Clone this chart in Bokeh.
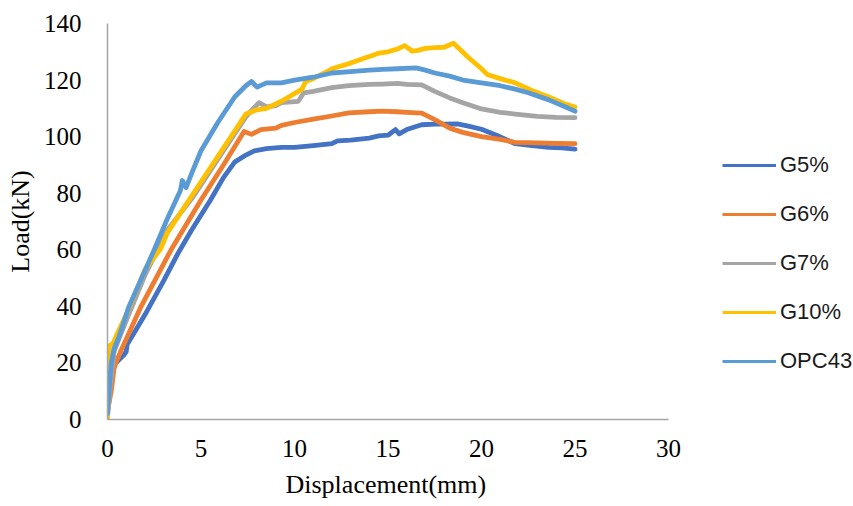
from bokeh.plotting import figure
from bokeh.models import Legend, LegendItem, Range1d, FixedTicker, Title
from bokeh.embed import file_html
from bokeh.resources import INLINE

# ---- data ----
series_names = ["G5%", "G6%", "G7%", "G10%", "OPC43"]
series_colors = ["#4472C4", "#ED7D31", "#A5A5A5", "#FFC000", "#5B9BD5"]

g5_x = [0, 0.1, 0.16, 0.3, 0.6, 0.9, 1.0, 1.07, 1.1, 2.0, 3.0, 3.75, 4.5, 5.5, 6.2, 6.8,
        7.4, 7.85, 8.5, 9.3, 10.0, 11.0, 12.0, 12.3, 13.0, 14.0, 14.5, 15.0, 15.4, 15.6,
        16.0, 16.8, 17.5, 18.0, 18.7, 19.3, 20.0, 20.8, 21.8, 22.7, 23.6, 24.3, 25.0]
g5_y = [3, 8, 17, 19, 21, 23, 24, 27.5, 27, 37, 49, 58.5, 67, 77.5, 85.5, 91,
        93.5, 95, 95.8, 96.2, 96.2, 96.8, 97.5, 98.5, 98.8, 99.5, 100.3, 100.5, 102.5, 101,
        102.5, 104.2, 104.4, 104.4, 104.5, 103.7, 102.6, 100.5, 97.5, 96.8, 96.2, 96, 95.6]

g6_x = [0, 0.2, 0.35, 0.45, 0.7, 1.8, 3.4, 5.0, 6.2, 7.3, 7.7, 8.2, 9.0, 9.3, 10.0, 11.0,
        12.0, 12.9, 14.0, 14.7, 15.5, 16.0, 16.8, 17.5, 18.3, 19.0, 20.0, 21.0, 21.8,
        23.0, 24.0, 25.0]
g6_y = [3, 10, 18, 20, 24, 40, 60, 77.6, 90, 101.8, 100.8, 102.5, 103, 104, 105, 106.2,
        107.3, 108.4, 108.8, 109, 108.8, 108.6, 108.3, 106, 103, 101.5, 100, 99, 98,
        97.8, 97.6, 97.5]

g7_x = [0, 0.15, 0.35, 0.7, 1.0, 2.0, 3.2, 4.5, 5.5, 6.5, 7.4, 7.8, 8.1, 8.5, 9.0, 9.3,
        10.2, 10.5, 11.0, 12.0, 12.9, 14.0, 14.7, 15.5, 16.0, 16.8, 17.5, 18.3, 19.0,
        20.0, 21.0, 21.8, 23.0, 24.0, 25.0]
g7_y = [1, 12, 24, 30, 35, 51, 67, 78, 88, 98, 107, 110, 112, 110.5, 111, 112,
        112.5, 115.5, 116, 117.3, 118, 118.5, 118.6, 118.8, 118.5, 118.3, 116, 113.7, 112,
        109.8, 108.6, 108, 107.2, 106.8, 106.7]

g10_x = [0, 0.05, 0.1, 0.3, 0.5, 1.0, 2.0, 2.85, 3.2, 4.5, 5.5, 6.5, 7.4, 8.0, 8.5, 9.3,
         10.4, 10.6, 11.0, 11.6, 12.0, 13.0, 13.8, 14.5, 15.0, 15.5, 15.9, 16.3, 16.6,
         17.0, 17.5, 18.0, 18.5, 19.3, 20.0, 20.3, 21.0, 21.8, 22.7, 23.6, 24.5, 25.0]
g10_y = [0.5, 8, 26, 27, 30, 37, 53, 60.4, 66, 79, 89, 99, 108, 109.5, 110, 112.5,
         116.8, 119.5, 120.5, 122.5, 124, 126, 127.9, 129.5, 130, 131, 132.2, 130.2, 130.5,
         131.2, 131.5, 131.6, 133, 128, 124, 122, 120.5, 119, 116.3, 114, 111.5, 110.5]

opc_x = [0, 0.1, 0.2, 0.35, 0.6, 1.15, 2.5, 3.2, 3.9, 4.0, 4.2, 4.5, 5.0, 5.9, 6.8, 7.4,
         7.7, 8.0, 8.5, 9.3, 10.0, 11.0, 12.0, 13.0, 14.0, 14.7, 15.5, 16.5, 17.0, 17.5,
         18.3, 19.0, 20.0, 21.0, 21.8, 22.5, 23.6, 24.5, 25.0]
opc_y = [2, 12, 20, 25, 29, 40, 60, 71, 81, 84.5, 82, 87, 95, 105, 114, 118,
         119.5, 117.5, 119, 119, 120, 121, 122.5, 123, 123.5, 123.8, 124, 124.3, 123.5, 122.5,
         121.4, 120, 119, 118, 116.8, 115.5, 113, 110.5, 109]

series_x = [g5_x, g6_x, g7_x, g10_x, opc_x]
series_y = [g5_y, g6_y, g7_y, g10_y, opc_y]

x_ticks = [0, 5, 10, 15, 20, 25, 30]
y_ticks = [0, 20, 40, 60, 80, 100, 120, 140]
x_axis_min, x_axis_max = 0, 30
y_axis_min, y_axis_max = 0, 140

# plot area spans 107..668 px for 0..30; the frame runs on to the right edge
# so the legend can sit inside it, with the axis line bounded to 0..30
left_px, axis_end_px, width_px = 107, 668, 853
x_view_end = x_axis_max * (width_px - left_px) / (axis_end_px - left_px)

p = figure(width=width_px, height=506, output_backend="svg", toolbar_location=None,
           x_range=Range1d(x_axis_min, x_view_end), y_range=Range1d(y_axis_min, y_axis_max),
           min_border_left=left_px, min_border_right=0,
           min_border_top=23, min_border_bottom=85)
p.outline_line_color = None
p.xgrid.visible = False
p.ygrid.visible = False
p.background_fill_color = "white"
p.border_fill_color = "white"

for ax in (p.xaxis[0], p.yaxis[0]):
    ax.axis_line_color = "#a6a6a6"
    ax.axis_line_width = 1.5
    ax.major_tick_line_color = None
    ax.minor_tick_line_color = None
    ax.major_label_text_font = "Liberation Serif"
    ax.major_label_text_font_size = "25px"
    ax.major_label_text_color = "#000000"
    ax.axis_label_text_font = "Liberation Serif"
    ax.axis_label_text_font_size = "26px"
    ax.axis_label_text_font_style = "normal"
    ax.axis_label_text_color = "#000000"

p.xaxis.bounds = (x_axis_min, x_axis_max)
p.xaxis.ticker = FixedTicker(ticks=x_ticks)
p.yaxis.ticker = FixedTicker(ticks=y_ticks)
p.yaxis.axis_label = "Load(kN)"
p.xaxis.major_label_standoff = 14
p.yaxis.major_label_standoff = 20
p.yaxis.axis_label_standoff = 6

xtitle = Title(text="Displacement(mm)", align="left", offset=178, standoff=16,
               text_font="Liberation Serif", text_font_size="26px",
               text_font_style="normal", text_color="#000000")
p.add_layout(xtitle, "below")

items = []
nan = float("nan")
for name, color, xs, ys in zip(series_names, series_colors, series_x, series_y):
    p.line(xs, ys, line_color=color, line_width=4.8, line_join="round", line_cap="round")
    dummy = p.line([nan], [nan], line_color=color, line_width=3.2)
    items.append(LegendItem(label=name, renderers=[dummy]))

legend = Legend(items=items, location=(615, 45), orientation="vertical",
                glyph_width=54, glyph_height=20, label_height=20, spacing=23,
                label_standoff=4, padding=0, margin=0,
                border_line_color=None, background_fill_alpha=0,
                label_text_font="Liberation Sans", label_text_font_size="22px",
                label_text_color="#1a1a1a")
p.add_layout(legend, "center")

open("out.html", "w").write(file_html(p, INLINE))
